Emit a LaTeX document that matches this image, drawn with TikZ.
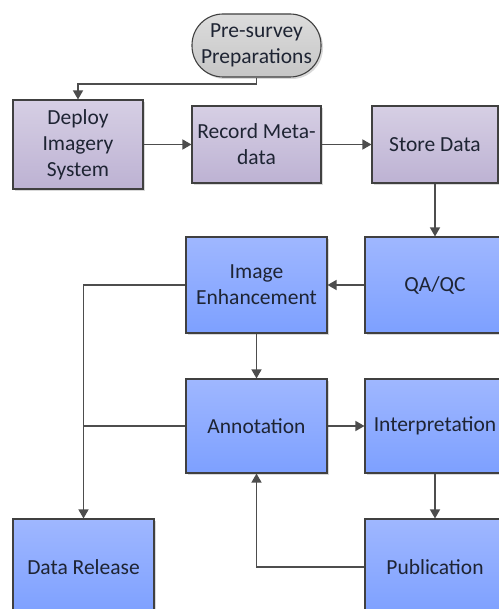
\documentclass[tikz,border=0pt]{standalone}
\usepackage{fontspec}
\setmainfont{Carlito}
\usetikzlibrary{arrows.meta,shadows}
\definecolor{edgegray}{HTML}{4D4D4D}
\definecolor{bordergray}{HTML}{404040}
\definecolor{txt}{HTML}{1E2433}
\definecolor{purtop}{HTML}{D6CFE4}
\definecolor{purbot}{HTML}{BDB2D3}
\definecolor{blutop}{HTML}{9FB7FF}
\definecolor{blubot}{HTML}{7DA0FF}
\definecolor{grytop}{HTML}{DCDCDC}
\definecolor{grybot}{HTML}{C6C6C6}
\tikzset{
  base/.style={draw=bordergray, line width=1.1pt, align=center, text=txt,
    font=\fontsize{21.5}{26}\selectfont, inner sep=0pt,
    drop shadow={shadow xshift=2pt, shadow yshift=-2pt, opacity=0.25, fill=black!60}},
  purbox/.style={base, rectangle, top color=purtop, bottom color=purbot},
  blubox/.style={base, rectangle, top color=blutop, bottom color=blubot},
  startbox/.style={base, rectangle, rounded corners=31pt, top color=grytop, bottom color=grybot},
  conn/.style={draw=edgegray, line width=1.4pt, -{Triangle[length=9pt,width=10pt]}},
  plain/.style={draw=edgegray, line width=1.4pt}
}
\begin{document}
\begin{tikzpicture}[x=1pt,y=-1pt]
\useasboundingbox (0,0) rectangle (498,609);
\node[startbox, minimum width=129pt, minimum height=63pt] (pre) at (256.5,45.5) {Pre-survey\\Preparations};
\node[purbox, minimum width=130pt, minimum height=89pt] (deploy) at (78,144.5) {Deploy\\Imagery\\System};
\node[purbox, minimum width=129pt, minimum height=77pt] (record) at (256.5,144.5) {Record Meta-\\data};
\node[purbox, minimum width=126pt, minimum height=77pt] (store) at (435,144.5) {Store Data};
\node[blubox, minimum width=141pt, minimum height=96pt] (ie) at (256.5,285) {Image\\Enhancement};
\node[blubox, minimum width=140pt, minimum height=96pt] (qa) at (435,285) {QA/QC};
\node[blubox, minimum width=141pt, minimum height=94pt] (ann) at (256.5,426) {Annotation};
\node[blubox, minimum width=140pt, minimum height=94pt] (interp) at (435,426) {Interpretation};
\node[blubox, minimum width=141pt, minimum height=96pt] (dr) at (83.5,567) {Data Release};
\node[blubox, minimum width=140pt, minimum height=96pt] (pub) at (435,567) {Publication};
\coordinate (c1) at (256.5,84);
\coordinate (c2) at (78,84);
\coordinate (c3) at (83.5,285);
\coordinate (c4) at (83.5,426);
\coordinate (c5) at (256.5,567);
\draw[conn] (pre.south) -- (c1) -- (c2) -- (deploy.north);
\draw[conn] (deploy.east) -- (record.west);
\draw[conn] (record.east) -- (store.west);
\draw[conn] (store.south) -- (qa.north);
\draw[conn] (qa.west) -- (ie.east);
\draw[conn] (ie.west) -- (c3) -- (dr.north);
\draw[plain] (ann.west) -- (c4);
\draw[conn] (ie.south) -- (ann.north);
\draw[conn] (ann.east) -- (interp.west);
\draw[conn] (interp.south) -- (pub.north);
\draw[conn] (pub.west) -- (c5) -- (ann.south);
\end{tikzpicture}
\end{document}
